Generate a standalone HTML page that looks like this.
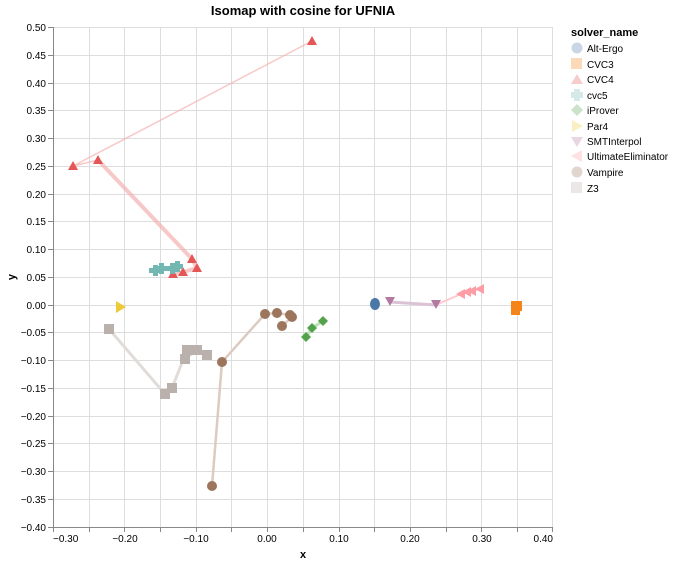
<!DOCTYPE html>
<html><head><style>body{margin:0;background:#fff}text{font-family:"Liberation Sans",sans-serif}</style></head><body>
<svg width="674" height="564" xmlns="http://www.w3.org/2000/svg">
<text x="303" y="15" font-size="13" font-weight="bold" text-anchor="middle">Isomap with cosine for UFNIA</text>
<g stroke="#ddd" stroke-width="1">
<line x1="89.5" y1="27" x2="89.5" y2="527"/><line x1="124.5" y1="27" x2="124.5" y2="527"/><line x1="160.5" y1="27" x2="160.5" y2="527"/><line x1="196.5" y1="27" x2="196.5" y2="527"/><line x1="231.5" y1="27" x2="231.5" y2="527"/><line x1="267.5" y1="27" x2="267.5" y2="527"/><line x1="303.5" y1="27" x2="303.5" y2="527"/><line x1="339.5" y1="27" x2="339.5" y2="527"/><line x1="374.5" y1="27" x2="374.5" y2="527"/><line x1="410.5" y1="27" x2="410.5" y2="527"/><line x1="446.5" y1="27" x2="446.5" y2="527"/><line x1="481.5" y1="27" x2="481.5" y2="527"/><line x1="517.5" y1="27" x2="517.5" y2="527"/><line x1="552.5" y1="27" x2="552.5" y2="527"/>
<line x1="53" y1="27.5" x2="553" y2="27.5"/><line x1="53" y1="55.5" x2="553" y2="55.5"/><line x1="53" y1="83.5" x2="553" y2="83.5"/><line x1="53" y1="110.5" x2="553" y2="110.5"/><line x1="53" y1="138.5" x2="553" y2="138.5"/><line x1="53" y1="166.5" x2="553" y2="166.5"/><line x1="53" y1="194.5" x2="553" y2="194.5"/><line x1="53" y1="221.5" x2="553" y2="221.5"/><line x1="53" y1="249.5" x2="553" y2="249.5"/><line x1="53" y1="277.5" x2="553" y2="277.5"/><line x1="53" y1="305.5" x2="553" y2="305.5"/><line x1="53" y1="332.5" x2="553" y2="332.5"/><line x1="53" y1="360.5" x2="553" y2="360.5"/><line x1="53" y1="388.5" x2="553" y2="388.5"/><line x1="53" y1="416.5" x2="553" y2="416.5"/><line x1="53" y1="443.5" x2="553" y2="443.5"/><line x1="53" y1="471.5" x2="553" y2="471.5"/><line x1="53" y1="499.5" x2="553" y2="499.5"/>
</g>
<g stroke="#888"><line x1="53.5" y1="27" x2="53.5" y2="527"/><line x1="53" y1="527.5" x2="553" y2="527.5"/>
<path d="M53.5,527v5M89.5,527v5M124.5,527v5M160.5,527v5M196.5,527v5M231.5,527v5M267.5,527v5M303.5,527v5M339.5,527v5M374.5,527v5M410.5,527v5M446.5,527v5M481.5,527v5M517.5,527v5M552.5,527v5"/>
<path d="M48,27.5h5M48,55.5h5M48,83.5h5M48,110.5h5M48,138.5h5M48,166.5h5M48,194.5h5M48,221.5h5M48,249.5h5M48,277.5h5M48,305.5h5M48,332.5h5M48,360.5h5M48,388.5h5M48,416.5h5M48,443.5h5M48,471.5h5M48,499.5h5M48,527.5h5"/></g>
<g font-size="10" text-anchor="end">
<text x="46" y="31">0.50</text><text x="46" y="59">0.45</text><text x="46" y="87">0.40</text><text x="46" y="114">0.35</text><text x="46" y="142">0.30</text><text x="46" y="170">0.25</text><text x="46" y="198">0.20</text><text x="46" y="225">0.15</text><text x="46" y="253">0.10</text><text x="46" y="281">0.05</text><text x="46" y="309">0.00</text><text x="46" y="336">−0.05</text><text x="46" y="364">−0.10</text><text x="46" y="392">−0.15</text><text x="46" y="420">−0.20</text><text x="46" y="447">−0.25</text><text x="46" y="475">−0.30</text><text x="46" y="503">−0.35</text><text x="46" y="531">−0.40</text>
</g>
<g font-size="10" text-anchor="middle">
<text x="53" y="542" text-anchor="start">−0.30</text><text x="125" y="542">−0.20</text><text x="196" y="542">−0.10</text><text x="267" y="542">0.00</text><text x="339" y="542">0.10</text><text x="410" y="542">0.20</text><text x="482" y="542">0.30</text><text x="553" y="542" text-anchor="end">0.40</text>
</g>
<text x="303" y="558" font-size="11" font-weight="bold" text-anchor="middle">x</text>
<text x="15" y="277" font-size="11" font-weight="bold" text-anchor="middle" transform="rotate(-90 15 277)">y</text>
<g fill="none" stroke-linecap="round">
<polyline points="312,41 73,166 98,160" stroke="#f4b0b0" stroke-width="1.5" opacity="0.7"/>
<polyline points="98,160 192,259 197,268 183,272 173,274" stroke="#f4b0b0" stroke-width="4" opacity="0.7"/>
<polyline points="155,271 160,268 172,269 176,267" stroke="#b8dcda" stroke-width="3"/>
<polyline points="109,329 165,394 172,388 187,350 185,359 197,350 207,355" stroke="#e0dcda" stroke-width="3"/>
<polyline points="212,486 222,362 265,314 277,313 290,315 292,317 282,326" stroke="#dccbc0" stroke-width="2.5"/>
<polyline points="306,337 312,328 323,321" stroke="#bde0b8" stroke-width="3"/>
<polyline points="390,302 436,305" stroke="#dcc2d6" stroke-width="3"/>
<polyline points="436,305 461,294 467,292 472,291 480,289" stroke="#ffc8cd" stroke-width="2"/>
</g>
<g fill="#e45756"><path d="M312,36l5,9h-10z"/><path d="M73,161l5,9h-10z"/><path d="M98,155l5,9h-10z"/><path d="M192,254l5,9h-10z"/><path d="M197,263l5,9h-10z"/><path d="M183,267l5,9h-10z"/><path d="M173,269l5,9h-10z"/></g>
<g fill="#72b7b2"><path d="M149,268h4v-3h5v3h3v5h-3v3h-5v-3h-4z"/><path d="M155,266h4v-3h5v3h3v5h-3v3h-5v-3h-4z"/><path d="M166,266h4v-3h5v3h3v5h-3v3h-5v-3h-4z"/><path d="M171,264h4v-3h5v3h3v5h-3v3h-5v-3h-4z"/></g>
<path d="M116,301l10,6-10,6z" fill="#eeca3b"/>
<g fill="#bab0ac"><rect x="104" y="324" width="10" height="10"/><rect x="160" y="389" width="10" height="10"/><rect x="167" y="383" width="10" height="10"/><rect x="182" y="345" width="10" height="10"/><rect x="180" y="354" width="10" height="10"/><rect x="192" y="345" width="10" height="10"/><rect x="202" y="350" width="10" height="10"/></g>
<g fill="#9d755d"><circle cx="212" cy="486" r="5"/><circle cx="222" cy="362" r="5"/><circle cx="265" cy="314" r="5"/><circle cx="277" cy="313" r="5"/><circle cx="290" cy="315" r="5"/><circle cx="292" cy="317" r="5"/><circle cx="282" cy="326" r="5"/></g>
<g fill="#54a24b"><path d="M306,332l5,5-5,5-5-5z"/><path d="M312,323l5,5-5,5-5-5z"/><path d="M323,316l5,5-5,5-5-5z"/></g>
<ellipse cx="375" cy="304" rx="5" ry="6" fill="#4c78a8"/>
<g fill="#b279a2"><path d="M385,297h10l-5,9z"/><path d="M431,300h10l-5,9z"/></g>
<g fill="#ff9da6"><path d="M456,294l9-5v10z"/><path d="M462,292l9-5v10z"/><path d="M467,291l9-5v10z"/><path d="M475,289l9-5v10z"/></g>
<g fill="#f58518"><rect x="511" y="301" width="11" height="10"/><rect x="511" y="305" width="9" height="10"/></g>
<text x="571" y="36" font-size="11" font-weight="bold">solver_name</text>
<g font-size="10">
<circle cx="577" cy="48" r="5.5" fill="#4c78a8" opacity="0.3"/><text x="587" y="52">Alt-Ergo</text>
<rect x="571" y="58" width="11" height="11" fill="#f58518" opacity="0.3"/><text x="587" y="68">CVC3</text>
<path d="M577,74l6,10h-12z" fill="#e45756" opacity="0.3"/><text x="587" y="83">CVC4</text>
<path d="M574,89h6v3h3v6h-3v3h-6v-3h-3v-6h3z" fill="#72b7b2" opacity="0.3"/><text x="587" y="99">cvc5</text>
<path d="M577,104l6,6-6,6-6-6z" fill="#54a24b" opacity="0.3"/><text x="587" y="114">iProver</text>
<path d="M572,120l11,6-11,6z" fill="#eeca3b" opacity="0.3"/><text x="587" y="130">Par4</text>
<path d="M571,137h12l-6,10z" fill="#b279a2" opacity="0.3"/><text x="587" y="145">SMTInterpol</text>
<path d="M571,156l11-6v12z" fill="#ff9da6" opacity="0.3"/><text x="587" y="160">UltimateEliminator</text>
<circle cx="577" cy="172" r="5.5" fill="#9d755d" opacity="0.3"/><text x="587" y="176">Vampire</text>
<rect x="571" y="182" width="11" height="11" fill="#bab0ac" opacity="0.3"/><text x="587" y="192">Z3</text>
</g>
</svg>
</body></html>
